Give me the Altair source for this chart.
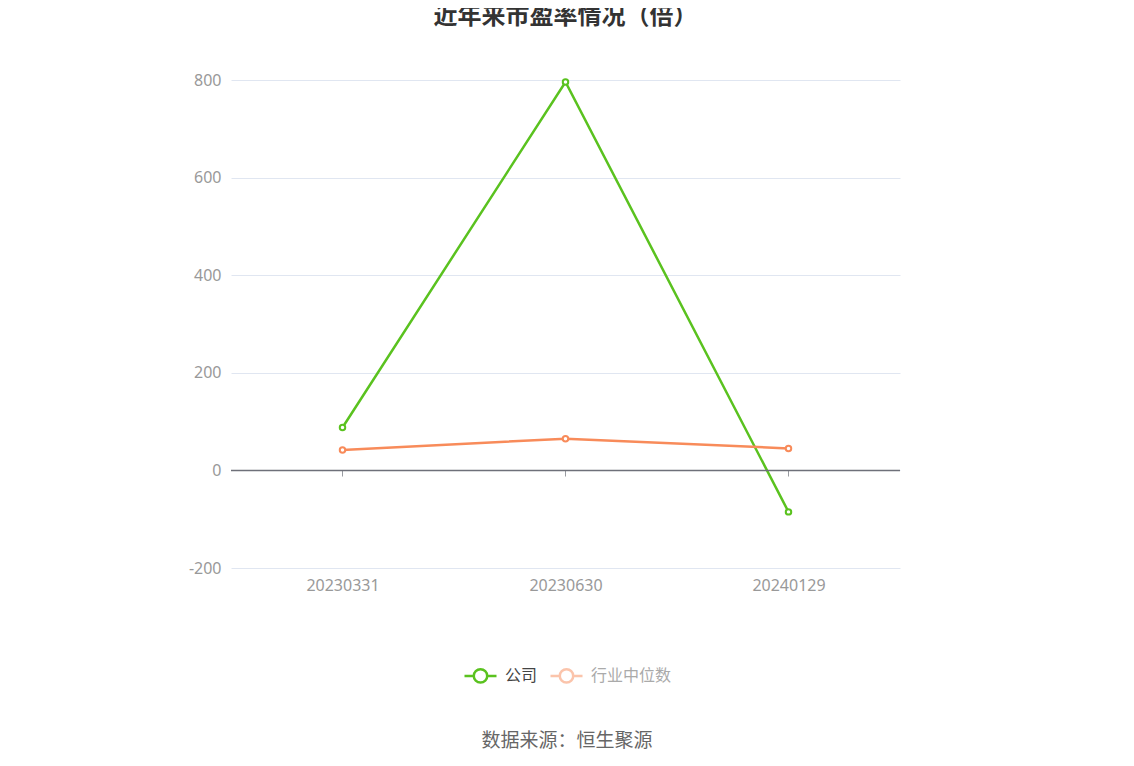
import altair as alt
import pandas as pd

dates = ["20230331", "20230630", "20240129"]
company = [88, 796, -85]
industry_median = [42, 65, 45]
series_names = ["公司", "行业中位数"]
colors = ["#5ac21f", "#f88b5a"]
y_ticks = [-200, 0, 200, 400, 600, 800]

rows = []
for d, v in zip(dates, company):
    rows.append({"date": d, "value": v, "series": series_names[0]})
for d, v in zip(dates, industry_median):
    rows.append({"date": d, "value": v, "series": series_names[1]})
df = pd.DataFrame(rows)

FONT = "Noto Sans CJK SC"
NUM_FONT = "Noto Sans"

x_enc = alt.X(
    "date:N",
    sort=dates,
    scale=alt.Scale(type="point", padding=0.5),
    axis=alt.Axis(
        title=None, labelAngle=0, domain=False, ticks=False, grid=False,
        labelColor="#999999", labelFontSize=16, labelFont=NUM_FONT, labelPadding=9,
    ),
)
y_enc = alt.Y(
    "value:Q",
    scale=alt.Scale(domain=[-200, 800], nice=False, zero=False),
    axis=alt.Axis(
        title=None, values=y_ticks, domain=False, ticks=False,
        gridColor="#e0e6f1", gridWidth=1,
        labelColor="#999999", labelFontSize=16, labelFont=NUM_FONT, labelPadding=10,
        labelExpr="'' + datum.value",
    ),
)
color_enc = alt.Color(
    "series:N",
    scale=alt.Scale(domain=series_names, range=colors),
    legend=alt.Legend(
        title=None, orient="none", direction="horizontal",
        legendX=232, legendY=578,
        symbolType="M-1,0H-0.42M0.42,0H1M-0.42,0A0.42,0.42 0 1,1 0.42,0A0.42,0.42 0 1,1 -0.42,0",
        symbolSize=1024, symbolStrokeWidth=2.5, symbolFillColor="white",
        symbolOpacity={"expr": "datum.label == '公司' ? 1 : 0.5"},
        labelColor={"expr": "datum.label == '公司' ? '#444444' : '#aaaaaa'"},
        labelFontSize=16, labelFont=FONT, labelOffset=7, columnPadding=7,
    ),
)

base = alt.Chart(df)

zero_df = pd.DataFrame({"date": dates, "value": [0, 0, 0]})
zero_line = alt.Chart(pd.DataFrame({"value": [0]})).mark_rule(
    color="#6e7079", strokeWidth=1.5
).encode(y=alt.Y("value:Q"))
zero_ticks = alt.Chart(zero_df).mark_tick(
    orient="vertical", size=6, thickness=1, yOffset=3, color="#6e7079"
).encode(x=alt.X("date:N", sort=dates), y=alt.Y("value:Q"))

lines = base.mark_line(strokeWidth=2.5).encode(x=x_enc, y=y_enc, color=color_enc)
points = base.mark_point(filled=True, fill="white", size=30, strokeWidth=2, opacity=1).encode(
    x=alt.X("date:N", sort=dates),
    y=alt.Y("value:Q"),
    stroke=alt.Stroke("series:N", scale=alt.Scale(domain=series_names, range=colors), legend=None),
)

footer = alt.Chart(pd.DataFrame({"t": ["数据来源：恒生聚源"]})).mark_text(
    fontSize=19, color="#666666", font=FONT, align="center", baseline="middle"
).encode(text="t:N", x=alt.value(336), y=alt.value(661))

chart = alt.layer(lines, zero_line, zero_ticks, points, footer).properties(
    width=669,
    height=488,
    autosize=alt.AutoSizeParams(type="none"),
    padding={"left": 223, "top": 72, "right": 226, "bottom": 190},
    title=alt.TitleParams(
        "近年来市盈率情况（倍）", fontSize=24, fontWeight="bold", color="#333333",
        font=FONT, anchor="middle", baseline="bottom", offset=19, dx=0,
    ),
).configure_view(stroke=None).configure_legend(padding=0)

chart.save("out.html", embed_options={"renderer": "svg", "actions": False})
